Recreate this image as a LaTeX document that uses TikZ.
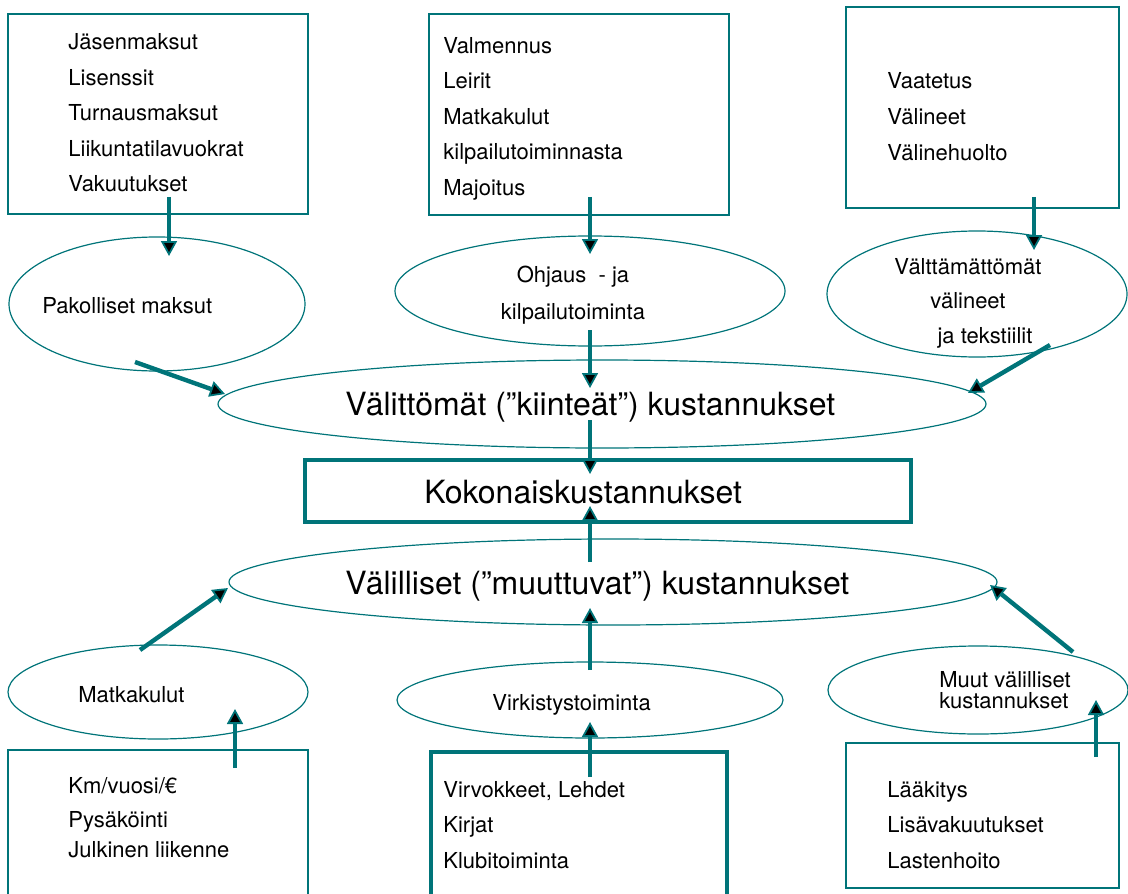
\documentclass[tikz,border=0pt]{standalone}
\usepackage{fontspec}
\setmainfont{TeX Gyre Heros}
\usepackage{tikz}
\usetikzlibrary{arrows.meta}
\usetikzlibrary{shapes.geometric}
\definecolor{kteal}{RGB}{0,116,121}

\begin{document}
\begin{tikzpicture}
	[x=0.5pt,y=-0.5pt,
	box/.style={rectangle,draw=kteal,line width=0.65pt,inner sep=0pt,outer sep=0pt},
	oval/.style={ellipse,draw=kteal,line width=0.6pt,inner sep=0pt,outer sep=0pt},
	lst/.style={anchor=north west,align=left,inner sep=0pt,font=\fontsize{11}{17.8}\selectfont},
	txt/.style={anchor=base west,inner sep=0pt,font=\fontsize{11}{13}\selectfont},
	big/.style={anchor=base west,inner sep=0pt,font=\fontsize{16}{19}\selectfont},
	arr/.style={draw=kteal,line width=2.2pt,-{Triangle[length=7.5pt,width=8pt,fill=black,line width=0.9pt]}}]
	\useasboundingbox (0,0) rectangle (1128,893);

	\node[box,minimum width=150pt,minimum height=100pt] (b1) at (158,114) {};
	\node[box,minimum width=150pt,minimum height=100.5pt] (b2) at (579,114.5) {};
	\node[box,minimum width=136.5pt,minimum height=100.5pt] (b3) at (982.5,107.5) {};
	\node[box,minimum width=150pt,minimum height=75pt] (b4) at (158,825) {};
	\node[box,line width=1.8pt,minimum width=148pt,minimum height=74pt] (b5) at (579,826) {};
	\node[box,minimum width=136.5pt,minimum height=72.5pt] (b6) at (982.5,815.5) {};

	\node[lst] (l1) at (68,33) {Jäsenmaksut\\Lisenssit\\Turnausmaksut\\Liikuntatilavuokrat\\Vakuutukset};
	\node[lst,font=\fontsize{11}{17.75}\selectfont] (l2) at (443,37) {Valmennus\\Leirit\\Matkakulut\\kilpailutoiminnasta\\Majoitus};
	\node[lst,font=\fontsize{11}{18}\selectfont] (l3) at (887,72) {Vaatetus\\Välineet\\Välinehuolto};
	\node[lst,font=\fontsize{11}{17}\selectfont] (l4) at (68,777) {Km/vuosi/€\\Pysäköinti\\[-2pt]Julkinen liikenne};
	\node[lst,font=\fontsize{11}{17.75}\selectfont] (l5) at (443,781) {Virvokkeet, Lehdet\\Kirjat\\Klubitoiminta};
	\node[lst,font=\fontsize{11}{17.75}\selectfont] (l6) at (887,781) {Lääkitys\\Lisävakuutukset\\Lastenhoito};

	\node[oval,minimum width=148pt,minimum height=67pt] (e1) at (157,304) {};
	\node[oval,minimum width=195pt,minimum height=55pt] (e2) at (590,291) {};
	\node[oval,minimum width=150pt,minimum height=63pt] (e3) at (977,294) {};
	\node[oval,minimum width=150pt,minimum height=47pt] (e4) at (158,692) {};
	\node[oval,minimum width=193pt,minimum height=38pt] (e5) at (590,700) {};
	\node[oval,minimum width=150pt,minimum height=44pt] (e6) at (978,690) {};

	\node[txt] (t1) at (42,313) {Pakolliset maksut};
	\node[lst,anchor=north,align=center,font=\fontsize{11}{18.5}\selectfont] (t2) at (573,266) {Ohjaus\ \ - ja\\kilpailutoiminta};
	\node[lst,anchor=north,align=center,font=\fontsize{11}{17.25}\selectfont] (t3) at (968,258) {Välttämättömät\\välineet\\\hspace*{17pt}ja tekstiilit};
	\node[txt] (t4) at (78,702) {Matkakulut};
	\node[txt] (t5) at (492,710) {Virkistystoiminta};
	\node[lst,font=\fontsize{11}{10.5}\selectfont] (t6) at (939,671) {Muut välilliset\\kustannukset};

	\node[oval,minimum width=384pt,minimum height=44pt] (v1) at (602,404) {};
	\node[box,line width=2.3pt,minimum width=303pt,minimum height=31pt] (kok) at (608,491) {};
	\node[oval,minimum width=384pt,minimum height=43pt] (v2) at (613,582) {};
	\node[big] (tv1) at (345,415) {Välittömät (”kiinteät”) kustannukset};
	\node[big] (tkok) at (424,503) {Kokonaiskustannukset};
	\node[big] (tv2) at (345,594) {Välilliset (”muuttuvat”) kustannukset};

	\draw[arr] ([shift={(11,-17)}]b1.south) -- ([shift={(12,19)}]e1.north);
	\draw[arr] ([shift={(11,-18)}]b2.south) -- ([shift={(0,18)}]e2.north);
	\draw[arr] ([shift={(51.5,-11)}]b3.south) -- ([shift={(57,19)}]e3.north);
	\draw[arr] ([shift={(-22,-9)}]e1.south) -- ([shift={(7,-10)}]v1.west);
	\draw[arr] ([shift={(0,-16)}]e2.south) -- ([shift={(-12,28)}]v1.north);
	\draw[arr] ([shift={(73,-12)}]e3.south) -- ([shift={(-18,-11)}]v1.east);
	\draw[arr] ([shift={(-12,-28)}]v1.south) -- ([shift={(-18,14)}]kok.north);
	\draw[arr] ([shift={(-23,23)}]v2.north) -- ([shift={(-18,-16)}]kok.south);
	\draw[arr] ([shift={(-18,5)}]e4.north) -- ([shift={(-1,6)}]v2.west);
	\draw[arr] ([shift={(0,8)}]e5.north) -- ([shift={(-23,-17)}]v2.south);
	\draw[arr] ([shift={(95,6)}]e6.north) -- ([shift={(-7,3)}]v2.east);
	\draw[arr] ([shift={(77,18)}]b4.north) -- ([shift={(77,-30)}]e4.south);
	\draw[arr] ([shift={(11,25)}]b5.north) -- ([shift={(0,-16)}]e5.south);
	\draw[arr] ([shift={(113.5,14)}]b6.north) -- ([shift={(118,-34)}]e6.south);
\end{tikzpicture}
\end{document}
